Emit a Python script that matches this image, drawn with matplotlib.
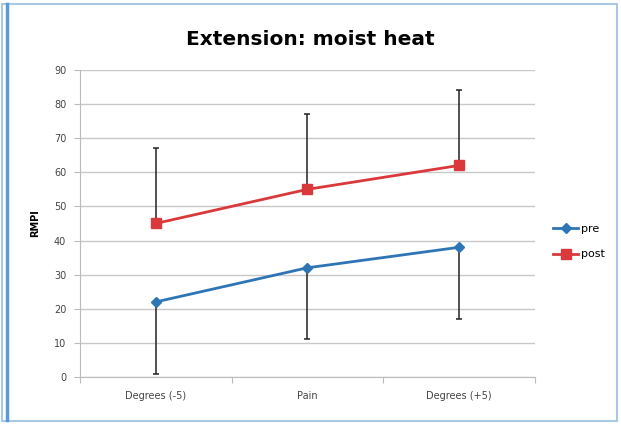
import matplotlib
matplotlib.use("Agg")
import matplotlib.pyplot as plt
from matplotlib.patches import Rectangle
from matplotlib.lines import Line2D

# data
categories = ["Degrees (-5)", "Pain", "Degrees (+5)"]
pre = [22, 32, 38]
post = [45, 55, 62]
pre_err = [21, 21, 21]    # drawn downward only
post_err = [22, 22, 22]   # drawn upward only

fig = plt.figure(figsize=(6.21, 4.24), dpi=100)
fig.patch.set_facecolor("white")

# chart frame
fig.add_artist(Rectangle((0.004, 0.006), 0.99, 0.985, transform=fig.transFigure,
                         fill=False, edgecolor="#a9c8e6", linewidth=1.5))
fig.add_artist(Line2D([0.012, 0.012], [0.01, 0.99], transform=fig.transFigure,
                      color="#5b9bd5", linewidth=2.5))

ax = fig.add_axes([0.129, 0.111, 0.732, 0.724])
x = [0.5, 1.5, 2.5]

ax.errorbar(x, pre, yerr=[pre_err, [0, 0, 0]], fmt="none", ecolor="#222222",
            elinewidth=1.1, capsize=2.5, capthick=1.1, zorder=2)
ax.errorbar(x, post, yerr=[[0, 0, 0], post_err], fmt="none", ecolor="#222222",
            elinewidth=1.1, capsize=2.5, capthick=1.1, zorder=2)
ax.plot(x, pre, color="#2e75b6", marker="D", markersize=5, linewidth=2,
        label="pre", zorder=3)
ax.plot(x, post, color="#d9393b", marker="s", markersize=7.5, linewidth=2,
        label="post", zorder=3)

ax.set_xlim(0, 3)
ax.set_ylim(0, 90)
ax.set_yticks(range(0, 91, 10))
ax.set_xticks([0, 1, 2, 3])
ax.set_xticks(x, minor=True)
ax.set_xticklabels([])
ax.set_xticklabels(categories, minor=True)
ax.tick_params(axis="x", which="minor", length=0, labelsize=7, colors="#444444", pad=10)
ax.tick_params(axis="x", which="major", length=4, color="#bbbbbb")
ax.tick_params(axis="y", length=4, color="#bbbbbb", labelsize=7, labelcolor="#444444", pad=6)
ax.grid(axis="y", color="#c8c8c8", linewidth=1)
ax.set_axisbelow(True)
for s in ["top", "right"]:
    ax.spines[s].set_visible(False)
ax.spines["left"].set_color("#bbbbbb")
ax.spines["bottom"].set_color("#bbbbbb")

ax.set_ylabel("RMPI", fontsize=7, fontweight="bold", labelpad=10)
fig.text(0.5, 0.895, "Extension: moist heat", ha="center", fontsize=14.5, fontweight="bold")

fig.legend(loc="center left", bbox_to_anchor=(0.875, 0.43), frameon=False, fontsize=8,
           handlelength=2.2, labelspacing=1.4, handletextpad=0.3)

fig.savefig("out.png", dpi=100)
